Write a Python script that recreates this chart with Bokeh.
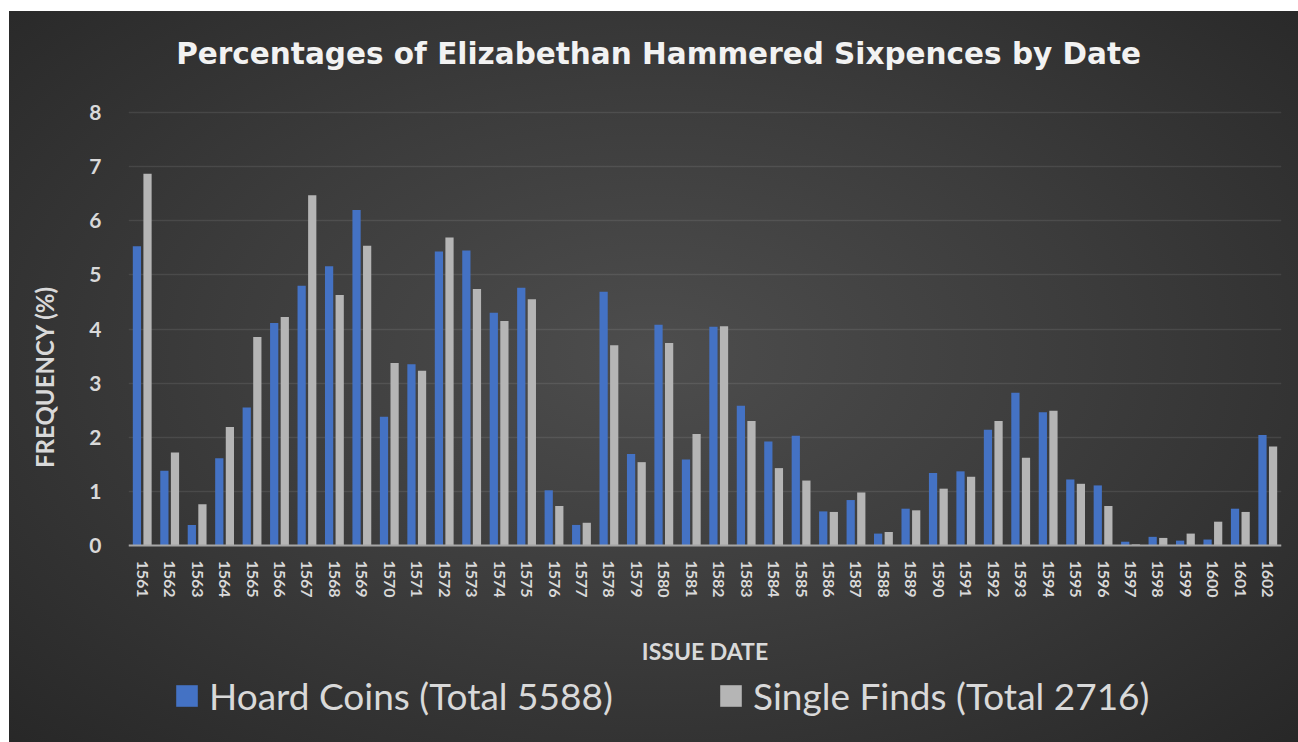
from bokeh.plotting import figure
from bokeh.models import Range1d, Legend, LegendItem, ColumnDataSource, Label
from bokeh.transform import dodge
from bokeh.embed import file_html
from bokeh.resources import INLINE

years = ["1561", "1562", "1563", "1564", "1565", "1566", "1567", "1568", "1569", "1570",
         "1571", "1572", "1573", "1574", "1575", "1576", "1577", "1578", "1579", "1580",
         "1581", "1582", "1583", "1584", "1585", "1586", "1587", "1588", "1589", "1590",
         "1591", "1592", "1593", "1594", "1595", "1596", "1597", "1598", "1599", "1600",
         "1601", "1602"]

hoard = [5.53, 1.38, 0.38, 1.61, 2.55, 4.11, 4.80, 5.16, 6.20, 2.38, 3.35, 5.43, 5.45, 4.30,
         4.76, 1.02, 0.38, 4.69, 1.69, 4.08, 1.59, 4.04, 2.58, 1.92, 2.03, 0.63, 0.84, 0.22,
         0.68, 1.34, 1.37, 2.14, 2.82, 2.46, 1.22, 1.11, 0.07, 0.16, 0.09, 0.11, 0.68, 2.04]

single = [6.87, 1.72, 0.76, 2.19, 3.85, 4.22, 6.47, 4.63, 5.54, 3.37, 3.23, 5.69, 4.74, 4.15,
          4.55, 0.73, 0.42, 3.70, 1.54, 3.74, 2.06, 4.05, 2.30, 1.43, 1.20, 0.62, 0.98, 0.25,
          0.65, 1.05, 1.27, 2.30, 1.62, 2.49, 1.14, 0.73, 0.02, 0.14, 0.22, 0.44, 0.62, 1.83]

title_text = "Percentages of Elizabethan Hammered Sixpences by Date"
series_labels = ["Hoard Coins (Total 5588)", "Single Finds (Total 2716)"]
y_ticks = [0, 1, 2, 3, 4, 5, 6, 7, 8]

FONT = "Lato"
TXT = "#d9d9d9"

source = ColumnDataSource(dict(year=years, hoard=hoard, single=single))

# The frame spans the full height of the chart box; the value axis 0..8 occupies
# the middle band, the room above holds the title and the room below holds the
# category labels and the legend.
p = figure(x_range=years, y_range=Range1d(-3.6397, 9.8661),
           width=1289, height=731, title=None,
           output_backend="svg", toolbar_location=None,
           min_border_left=119, min_border_right=17, min_border_top=0, min_border_bottom=0)
p.margin = (11, 0, 0, 9)

p.styles = {"background": "radial-gradient(ellipse 75% 80% at 50% 47%, #4d4d4d 0%, #3c3c3c 45%, #252525 100%)"}
p.border_fill_color = None
p.background_fill_color = None
p.outline_line_color = None

r1 = p.vbar(x=dodge("year", -0.193, range=p.x_range), top="hoard", width=0.30,
            source=source, fill_color="#4472c4", line_color=None)
r2 = p.vbar(x=dodge("year", 0.193, range=p.x_range), top="single", width=0.30,
            source=source, fill_color="#b5b5b5", line_color=None)

p.add_layout(Label(x=19.31, y=9.09, text=title_text, text_align="center",
                   text_baseline="middle", text_font="DejaVu Sans",
                   text_font_size="29.5px", text_font_style="bold", text_color="#f2f2f2"))

p.x_range.range_padding = 0
p.xaxis.fixed_location = 0
p.xaxis.major_label_orientation = "vertical"
p.xaxis.major_label_text_font = FONT
p.xaxis.major_label_text_font_style = "bold"
p.xaxis.major_label_text_font_size = "16px"
p.xaxis.major_label_text_color = TXT
p.xaxis.major_label_standoff = 15
p.xaxis.major_tick_out = 0
p.xaxis.major_tick_in = 0
p.xaxis.axis_label = "ISSUE DATE"
p.xaxis.axis_label_text_font = FONT
p.xaxis.axis_label_text_font_style = "bold"
p.xaxis.axis_label_text_font_size = "23px"
p.xaxis.axis_label_text_color = TXT
p.xaxis.axis_label_standoff = 36
p.xaxis.axis_line_color = "#a6a6a6"
p.xaxis.axis_line_width = 2
p.xaxis.major_tick_line_color = None
p.xaxis.minor_tick_line_color = None

p.yaxis.ticker = y_ticks
p.yaxis.major_label_text_font = FONT
p.yaxis.major_label_text_font_style = "bold"
p.yaxis.major_label_text_font_size = "21px"
p.yaxis.major_label_text_color = TXT
p.yaxis.major_label_standoff = 27
p.yaxis.major_tick_out = 0
p.yaxis.major_tick_in = 0
p.yaxis.axis_label = "FREQUENCY (%)"
p.yaxis.axis_label_text_font = FONT
p.yaxis.axis_label_text_font_style = "bold"
p.yaxis.axis_label_text_font_size = "24px"
p.yaxis.axis_label_text_color = TXT
p.yaxis.axis_label_standoff = 27
p.yaxis.axis_line_color = None
p.yaxis.major_tick_line_color = None
p.yaxis.minor_tick_line_color = None

p.xgrid.grid_line_color = None
p.ygrid.grid_line_color = "#ffffff"
p.ygrid.grid_line_alpha = 0.09
p.ygrid.grid_line_width = 1.5

legend = Legend(items=[LegendItem(label=series_labels[0], renderers=[r1]),
                       LegendItem(label=series_labels[1], renderers=[r2])],
                orientation="horizontal", location=(45, 24),
                label_text_font=FONT, label_text_font_size="37px", label_text_color=TXT,
                glyph_width=27, glyph_height=27, label_standoff=9, spacing=0,
                label_width=508, label_height=40,
                border_line_color=None, background_fill_alpha=0, margin=0, padding=8)
p.add_layout(legend, "center")

open("out.html", "w").write(file_html(p, INLINE))
